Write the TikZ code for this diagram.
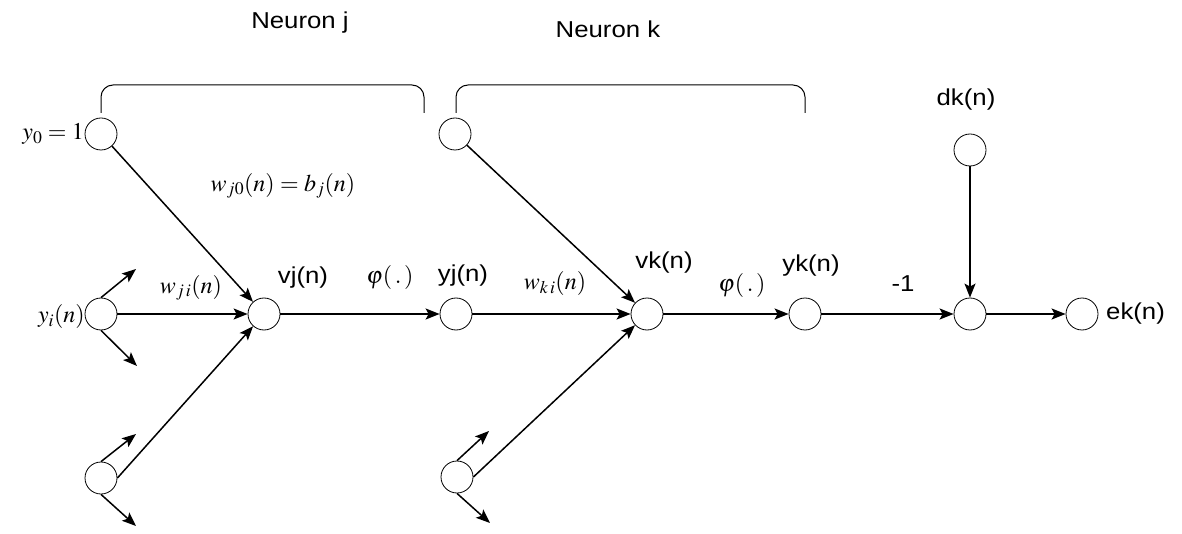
\documentclass[tikz,border=0pt]{standalone}
\usepackage{mathptmx}
\usepackage{fontspec}
\setmainfont{Liberation Sans}
\newfontfamily\labfont[FakeStretch=1.12]{Liberation Sans}
\usetikzlibrary{arrows.meta}

\begin{document}
\begin{tikzpicture}[x=1pt, y=-1pt,
		neuron/.style={draw, circle, line width=0.8pt, minimum size=32pt, inner sep=0pt},
		arr/.style={line width=1.5pt, -{Stealth[length=14pt, width=11pt, inset=3pt]}},
		lab/.style={font=\labfont\fontsize{23}{25}\selectfont, inner sep=0pt},
		mlab/.style={font=\fontsize{24}{26}\selectfont, inner sep=0pt}
	]
	\useasboundingbox (0,0) rectangle (1182,534);
	% neurons
	\node[neuron] (y0) at (101,134) {};
	\node[neuron] (yi) at (101,314) {};
	\node[neuron] (yb) at (101,478) {};
	\node[neuron] (vj) at (264,314) {};
	\node[neuron] (yj) at (456,314) {};
	\node[neuron] (yt) at (455,134) {};
	\node[neuron] (yc) at (457,477) {};
	\node[neuron] (vk) at (647,314) {};
	\node[neuron] (yk) at (805,314) {};
	\node[neuron] (sum) at (970,314) {};
	\node[neuron] (dk) at (970,150) {};
	\node[neuron] (ek) at (1082,314) {};
	% free ends of the stubs
	\coordinate (s1) at (136,269);
	\coordinate (s2) at (137,366);
	\coordinate (s3) at (136,434);
	\coordinate (s4) at (136,526);
	\coordinate (s5) at (489,431);
	\coordinate (s6) at (490,523);
	% labels
	\node[lab] (nj) at (300,23) {Neuron j};
	\node[lab] (nk) at (608,29) {Neuron k};
	\node[lab] (ldk) at (966,100) {dk(n)};
	\node[mlab, anchor=east] (ly0) at (84,134) {$y_0 = 1$};
	\node[mlab, anchor=east] (lyi) at (85,317) {$y_i(n)$};
	\node[mlab] (lw0) at (283,186) {$w_{j0}(n) = b_j(n)$};
	\node[mlab] (lwji) at (191,288) {$w_{j\,i}(n)$};
	\node[lab] (lvj) at (303,278) {vj(n)};
	\node[mlab] (lp1) at (390,278) {$\varphi(\,.\,)$};
	\node[lab] (lyj) at (463,276) {yj(n)};
	\node[mlab] (lwki) at (555,284) {$w_{k\,i}(n)$};
	\node[lab] (lvk) at (664,263) {vk(n)};
	\node[mlab] (lp2) at (742,286) {$\varphi(\,.\,)$};
	\node[lab] (lyk) at (811,266) {yk(n)};
	\node[lab] (lm1) at (903,284) {-1};
	\node[lab, anchor=west] (lek) at (1106,314) {ek(n)};
	% brackets
	\draw[line width=1pt, rounded corners=12pt] (101,113) -- (101,85) -- (424,85) -- (424,113);
	\draw[line width=1pt, rounded corners=12pt] (456,113) -- (456,85) -- (805,85) -- (805,113);
	% connectors
	\draw[arr] (y0) -- (vj);
	\draw[arr] (yi) -- (vj);
	\draw[arr] (yb.east) -- (vj);
	\draw[arr] (vj) -- (yj);
	\draw[arr] (yj) -- (vk);
	\draw[arr] (yt) -- (vk);
	\draw[arr] (yc.east) -- (vk);
	\draw[arr] (vk) -- (yk);
	\draw[arr] (yk) -- (sum);
	\draw[arr] (dk) -- (sum);
	\draw[arr] (sum) -- (ek);
	\draw[arr] (yi.north) -- (s1);
	\draw[arr] (yi.south) -- (s2);
	\draw[arr] (yb.north) -- (s3);
	\draw[arr] (yb.south) -- (s4);
	\draw[arr] (yc.north) -- (s5);
	\draw[arr] (yc.south) -- (s6);
\end{tikzpicture}
\end{document}
